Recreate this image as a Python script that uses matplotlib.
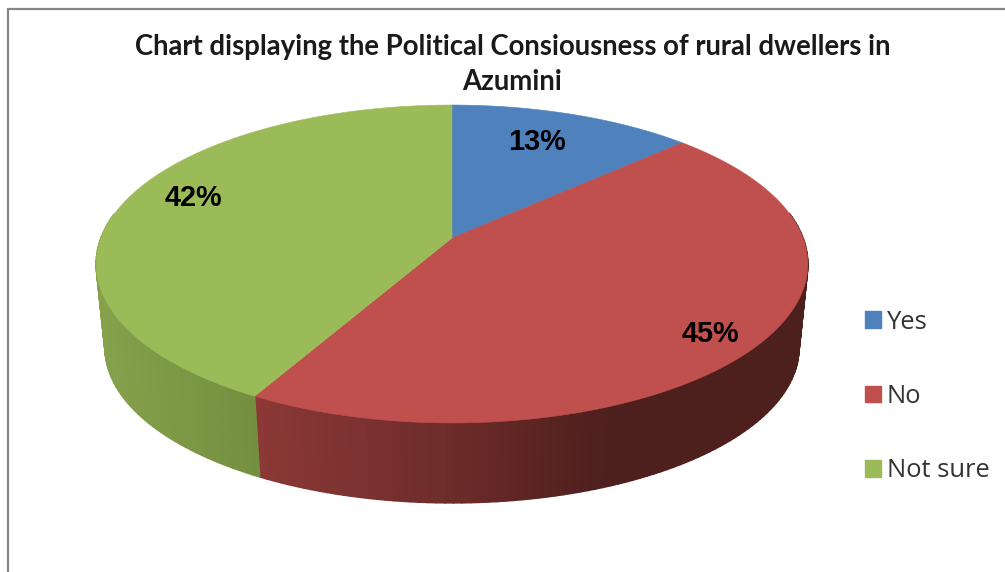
import numpy as np
import matplotlib
matplotlib.use("Agg")
import matplotlib.pyplot as plt
from matplotlib.collections import PolyCollection
from matplotlib.colors import to_rgb
from matplotlib.patches import Patch, Polygon

categories = ["Yes", "No", "Not sure"]
percentages = [13, 45, 42]
colors = ["#4F81BD", "#C0504D", "#9BBB59"]
title = "Chart displaying the Political Consiousness of rural dwellers in\nAzumini"
label_xy = [(537, 142), (710, 334), (193, 198)]

W, H = 1005, 572
CX, CY, A, B, P = 452, 238, 351, 154.7, 0.1635
DEPTH, SHRINK = 84.5, 0.975

def project(theta):
    u, v = np.sin(theta), np.cos(theta)
    w = 1 + P * v
    return CX + A * u / w, CY - B * v / w

def lower(x, y):
    return CX + (x - CX) * SHRINK, CY + (y - CY) * SHRINK + DEPTH

def side_colour(i, x):
    # shade the rim of each slice from its light end to its dark end
    stops = {
        0: ([100, 800], ["#3A5F8C", "#2A4565"]),
        1: ([258, 450, 610, 810], ["#8B3836", "#6D2C2A", "#4D1F1D", "#4D1F1D"]),
        2: ([100, 258], ["#86A14B", "#738E40"]),
    }[i]
    rgb = np.array([to_rgb(c) for c in stops[1]])
    return tuple(np.interp(x, stops[0], rgb[:, k]) for k in range(3))

fig = plt.figure(figsize=(W / 100, H / 100), dpi=100, facecolor="white")
ax = fig.add_axes([0, 0, 1, 1])
ax.set_xlim(0, W)
ax.set_ylim(H, 0)
ax.axis("off")

ax.plot([7.5, 7.5, W], [H, 9, 9], color="#868686", lw=1.6, solid_joinstyle="miter")

edges = 2 * np.pi * np.cumsum([0] + percentages) / sum(percentages)

for i in range(len(percentages)):
    th = np.linspace(edges[i], edges[i + 1], max(int(percentages[i] * 3), 8))
    x, y = project(th)
    x2, y2 = lower(x, y)
    quads, cols = [], []
    for k in range(len(th) - 1):
        if np.cos(th[k]) > 0.15 and np.cos(th[k + 1]) > 0.15:
            continue
        quads.append([(x[k], y[k]), (x[k + 1], y[k + 1]), (x2[k + 1], y2[k + 1]), (x2[k], y2[k])])
        c = side_colour(i, (x[k] + x[k + 1]) / 2)
        cols.append(c)
    ax.add_collection(PolyCollection(quads, facecolors=cols, edgecolors=cols, linewidths=1.2, zorder=2))

for i, colour in enumerate(colors):
    th = np.linspace(edges[i], edges[i + 1], 200)
    x, y = project(th)
    pts = np.column_stack([np.r_[CX, x], np.r_[CY, y]])
    ax.add_patch(Polygon(pts, closed=True, facecolor=colour, edgecolor=colour, lw=0.4, zorder=3))

for (lx, ly), p in zip(label_xy, percentages):
    ax.text(lx, ly, f"{p}%", ha="center", va="center", fontsize=20.8, fontweight="bold",
            family="Liberation Sans", color="black", zorder=4)

ax.text(512.5, 64.5, title, ha="center", va="center", fontsize=19.8, fontweight="bold",
        family="Lato", color="#1a1a1a", linespacing=1.47, zorder=4)

handles = [Patch(facecolor=c, edgecolor=c) for c in colors]
leg = ax.legend(handles, categories, loc="center left", bbox_to_anchor=(865 / W, 1 - 396.5 / H),
                frameon=False, labelspacing=1.93, handlelength=0.625, handleheight=0.625,
                handletextpad=0.22, borderaxespad=0, borderpad=0,
                prop={"family": "Open Sans", "size": 18.4})
for t in leg.get_texts():
    t.set_color("#333333")

fig.savefig("out.png", dpi=100, facecolor="white")
